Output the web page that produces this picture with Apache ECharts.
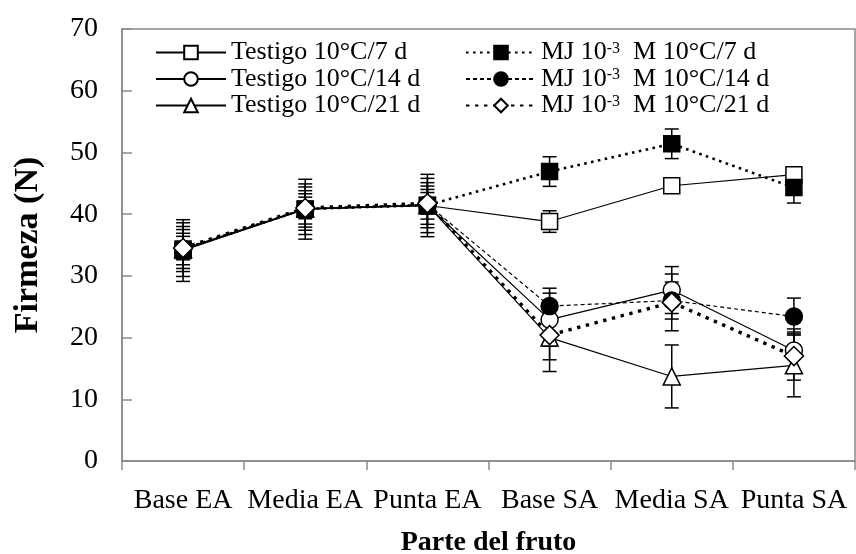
<!DOCTYPE html>
<html><head><meta charset="utf-8">
<script src="https://cdn.jsdelivr.net/npm/echarts@6/dist/echarts.min.js"></script>
<style>html,body{margin:0;padding:0;background:#fff}#c{width:856px;height:554px}</style>
</head><body><div id="c"></div>
<script>
const categories = ['Base EA', 'Media EA', 'Punta EA', 'Base SA', 'Media SA', 'Punta SA'];
const yMin = 0, yMax = 70, yStep = 10;

const seriesNames = [
  'Testigo 10°C/7 d', 'Testigo 10°C/14 d', 'Testigo 10°C/21 d',
  'MJ 10-3 M 10°C/7 d', 'MJ 10-3 M 10°C/14 d', 'MJ 10-3 M 10°C/21 d'
];

const testigo7  = [34.1, 40.8, 41.4, 38.8, 44.6, 46.4];
const testigo14 = [34.25, 40.8, 41.4, 22.9, 27.7, 17.9];
const testigo21 = [34.35, 40.9, 41.45, 20.0, 13.7, 15.5];
const mj7  = [34.35, 40.85, 41.45, 46.9, 51.4, 44.3];
const mj14 = [34.35, 40.85, 41.6, 25.1, 26.0, 23.4];
const mj21 = [34.5, 41.0, 41.75, 20.4, 25.7, 17.0];

const errTestigo7  = [5.0, 4.85, 5.05, 1.75, 0.9, 0.9];
const errTestigo14 = [4.35, 4.1, 4.4, 4.3, 3.8, 3.5];
const errTestigo21 = [3.65, 3.5, 3.65, 5.5, 5.1, 5.1];
const errMj7  = [3.15, 2.95, 3.1, 2.4, 2.4, 2.5];
const errMj14 = [2.55, 2.45, 2.4, 2.9, 3.0, 3.0];
const errMj21 = [1.9, 1.75, 1.75, 4.0, 4.6, 3.9];

const FONT = "'Liberation Serif', 'Times New Roman', serif";
const AXIS = '#8a8a8a';

const values = [testigo7, testigo14, testigo21, mj7, mj14, mj21];
const errors = [errTestigo7, errTestigo14, errTestigo21, errMj7, errMj14, errMj21];

const styles = [
  { symbol: 'rect', size: 16, fill: '#fff', line: { width: 1.2, type: 'solid' } },
  { symbol: 'circle', size: 17, fill: '#fff', line: { width: 1.2, type: 'solid' } },
  { symbol: 'triangle', size: 17, fill: '#fff', line: { width: 1.2, type: 'solid' } },
  { symbol: 'rect', size: 16, fill: '#000', line: { width: 2.6, type: [2.6, 4.4] } },
  { symbol: 'circle', size: 17, fill: '#000', line: { width: 1.2, type: [4, 3] } },
  { symbol: 'diamond', size: 19, fill: '#fff', line: { width: 3.4, type: [3.4, 5.6] } }
];

const chart = echarts.init(document.getElementById('c'), null, { renderer: 'canvas' });

const series = [];
values.forEach((vals, i) => {
  const errs = errors[i];
  series.push({
    type: 'custom',
    name: seriesNames[i] + ' err',
    z: 1,
    silent: true,
    data: vals.map((v, k) => [k, v, errs[k]]),
    renderItem: function (params, api) {
      const x = api.value(0), v = api.value(1), e = api.value(2);
      const top = api.coord([x, v + e]);
      const bot = api.coord([x, v - e]);
      const hw = 7;
      const st = { stroke: '#000', lineWidth: 1.5 };
      return {
        type: 'group',
        children: [
          { type: 'line', shape: { x1: top[0], y1: top[1], x2: bot[0], y2: bot[1] }, style: st },
          { type: 'line', shape: { x1: top[0] - hw, y1: top[1], x2: top[0] + hw, y2: top[1] }, style: st },
          { type: 'line', shape: { x1: bot[0] - hw, y1: bot[1], x2: bot[0] + hw, y2: bot[1] }, style: st }
        ]
      };
    }
  });
});
values.forEach((vals, i) => {
  const s = styles[i];
  series.push({
    type: 'line',
    name: seriesNames[i],
    z: 3,
    data: vals,
    symbol: s.symbol,
    symbolSize: s.size,
    showAllSymbol: true,
    lineStyle: { color: '#000', width: s.line.width, type: s.line.type },
    itemStyle: { color: s.fill, borderColor: '#000', borderWidth: 1.5, opacity: 1 },
    emphasis: { disabled: true },
    animation: false
  });
});

const legendBase = {
  orient: 'vertical',
  top: 34.5,
  itemWidth: 70,
  itemHeight: 17,
  itemGap: 0.5,
  selectedMode: false,
  textStyle: { fontFamily: FONT, fontSize: 26, lineHeight: 21, color: '#000' }
};

chart.setOption({
  animation: false,
  backgroundColor: '#fff',
  grid: { left: 122, right: 1, top: 29, bottom: 93, show: true, borderColor: AXIS, borderWidth: 1.5, outerBoundsMode: 'none', containLabel: false },
  legend: [
    Object.assign({}, legendBase, { left: 150, data: seriesNames.slice(0, 3) }),
    Object.assign({}, legendBase, {
      left: 460, data: seriesNames.slice(3),
      formatter: function (name) {
        const rest = name.replace('MJ 10-3 M ', '');
        return '{n|MJ 10}{s|-3}{n|  M ' + rest + '}';
      },
      textStyle: {
        fontFamily: FONT, fontSize: 26, lineHeight: 21, color: '#000',
        rich: {
          n: { fontFamily: FONT, fontSize: 26, lineHeight: 21, color: '#000' },
          s: { fontFamily: FONT, fontSize: 16, color: '#000', verticalAlign: 'top', lineHeight: 24 }
        }
      }
    })
  ],
  xAxis: {
    type: 'category',
    data: categories,
    boundaryGap: true,
    name: 'Parte del fruto',
    nameLocation: 'middle',
    nameGap: 68,
    nameTextStyle: { fontFamily: FONT, fontSize: 28, fontWeight: 'bold', color: '#000' },
    axisLine: { lineStyle: { color: AXIS, width: 1.5 } },
    axisTick: { show: true, alignWithLabel: false, length: 9, lineStyle: { color: AXIS, width: 1.5 } },
    axisLabel: { interval: 0, margin: 26, fontFamily: FONT, fontSize: 28, color: '#000' },
    splitLine: { show: false }
  },
  yAxis: {
    type: 'value',
    min: yMin, max: yMax, interval: yStep,
    name: 'Firmeza (N)',
    nameLocation: 'middle',
    nameRotate: 90,
    nameGap: 77,
    nameTextStyle: { fontFamily: FONT, fontSize: 34, fontWeight: 'bold', color: '#000' },
    axisLine: { show: true, lineStyle: { color: AXIS, width: 1.5 } },
    axisTick: { show: true, inside: true, length: 10, lineStyle: { color: AXIS, width: 1.5 } },
    axisLabel: { margin: 24, fontFamily: FONT, fontSize: 28, color: '#000' },
    splitLine: { show: false }
  },
  series: series
});
</script></body></html>
